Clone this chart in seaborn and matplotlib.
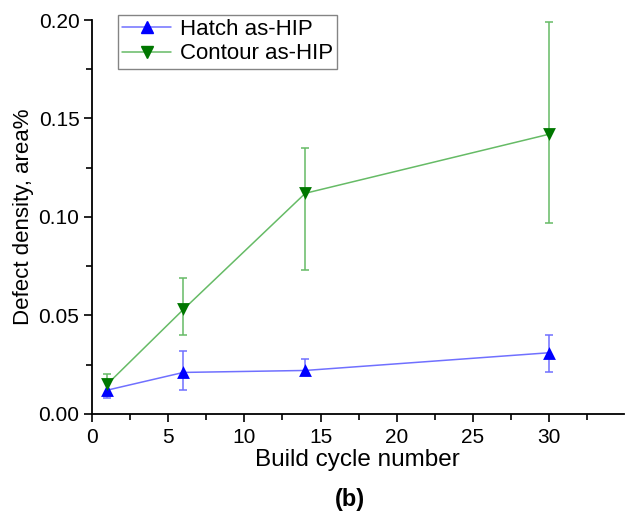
import numpy as np
import pandas as pd
import matplotlib
matplotlib.use("Agg")
import matplotlib.pyplot as plt
from matplotlib.ticker import MultipleLocator, FormatStrFormatter
from matplotlib.lines import Line2D
import seaborn as sns

# values
cycles = [1, 6, 14, 30]
hatch = [0.012, 0.021, 0.022, 0.031]
hatch_low = [0.008, 0.012, 0.020, 0.021]
hatch_high = [0.017, 0.032, 0.028, 0.040]
contour = [0.015, 0.053, 0.112, 0.142]
contour_low = [0.009, 0.040, 0.073, 0.097]
contour_high = [0.020, 0.069, 0.135, 0.199]

sns.set_style("ticks", {'axes.edgecolor': 'black', 'text.color': 'black',
                        'axes.labelcolor': 'black', 'xtick.color': 'black',
                        'ytick.color': 'black'})
plt.rcParams['font.family'] = ['Liberation Sans', 'DejaVu Sans']

df = pd.DataFrame({
    'cycle': cycles * 2,
    'density': hatch + contour,
    'series': ['Hatch as-HIP'] * 4 + ['Contour as-HIP'] * 4,
})

fig = plt.figure(figsize=(6.3, 5.14), dpi=100)
ax = fig.add_axes([0.146, 0.195, 0.844, 0.766])

line_col = {'Hatch as-HIP': '#7070ff', 'Contour as-HIP': '#66bb66'}
mark_col = {'Hatch as-HIP': '#0000ff', 'Contour as-HIP': '#007700'}

# error bars first
for name, vals, lo, hi in [('Hatch as-HIP', hatch, hatch_low, hatch_high),
                           ('Contour as-HIP', contour, contour_low, contour_high)]:
    vals = np.array(vals)
    err = np.vstack([vals - np.array(lo), np.array(hi) - vals])
    ax.errorbar(cycles, vals, yerr=err, fmt='none', ecolor=line_col[name],
                elinewidth=1.1, capsize=3.2, capthick=1.1, zorder=2)

sns.lineplot(data=df, x='cycle', y='density', hue='series', palette=line_col,
             ax=ax, linewidth=1.1, legend=False, zorder=3)
for name, marker in [('Hatch as-HIP', '^'), ('Contour as-HIP', 'v')]:
    sub = df[df['series'] == name]
    ax.scatter(sub['cycle'], sub['density'], marker=marker, s=85,
               color=mark_col[name], zorder=4, linewidths=0)

handles = [Line2D([], [], color=line_col['Hatch as-HIP'], marker='^', markersize=9,
                  markerfacecolor=mark_col['Hatch as-HIP'], markeredgecolor=mark_col['Hatch as-HIP'], lw=1.1),
           Line2D([], [], color=line_col['Contour as-HIP'], marker='v', markersize=9,
                  markerfacecolor=mark_col['Contour as-HIP'], markeredgecolor=mark_col['Contour as-HIP'], lw=1.1)]
leg = ax.legend(handles, ['Hatch as-HIP', 'Contour as-HIP'], loc='upper left',
                bbox_to_anchor=(0.04, 1.025), fontsize=16, frameon=True, fancybox=False,
                edgecolor='#666666', handlelength=2.2, borderpad=0.2, labelspacing=0.15,
                handletextpad=0.4, borderaxespad=0.2)
leg.get_frame().set_linewidth(1.0)

ax.set_xlim(0, 34.9)
ax.set_ylim(0, 0.20)
ax.xaxis.set_major_locator(MultipleLocator(5))
ax.xaxis.set_minor_locator(MultipleLocator(2.5))
ax.yaxis.set_major_locator(MultipleLocator(0.05))
ax.yaxis.set_minor_locator(MultipleLocator(0.025))
ax.yaxis.set_major_formatter(FormatStrFormatter('%.2f'))
ax.tick_params(which='major', length=6, width=1.2, labelsize=15, direction='out', pad=3)
ax.tick_params(axis='x', which='major', pad=4)
ax.tick_params(which='minor', length=4, width=1.2, direction='out')
sns.despine(ax=ax)
for s in ['left', 'bottom']:
    ax.spines[s].set_linewidth(1.3)

ax.set_xlabel('Build cycle number', fontsize=17.5, labelpad=2)
ax.set_ylabel('Defect density, area%', fontsize=16, labelpad=3)
fig.text(0.555, 0.015, '(b)', fontsize=17, fontweight='bold', ha='center')

fig.savefig('out.png', dpi=100)
